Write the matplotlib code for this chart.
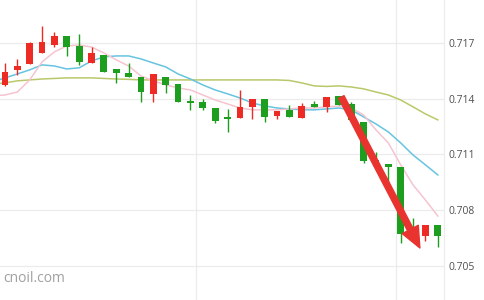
import matplotlib
matplotlib.use("Agg")
import matplotlib.pyplot as plt
import numpy as np

# candle data (open, high, low, close)
opens = [0.71474, 0.71555, 0.71587, 0.71646, 0.71689, 0.71738, 0.71684, 0.71592,
         0.71635, 0.71560, 0.71539, 0.71517, 0.71426, 0.71517, 0.71479, 0.71388,
         0.71383, 0.71350, 0.71299, 0.71296, 0.71356, 0.71399, 0.71307, 0.71340,
         0.71296, 0.71372, 0.71356, 0.71415, 0.71372, 0.71275, 0.71070, 0.71049,
         0.71033, 0.70678, 0.70662, 0.70721]
highs = [0.71592, 0.71614, 0.71705, 0.71791, 0.71759, 0.71738, 0.71748, 0.71678,
         0.71635, 0.71560, 0.71592, 0.71517, 0.71533, 0.71517, 0.71479, 0.71420,
         0.71399, 0.71350, 0.71345, 0.71447, 0.71399, 0.71399, 0.71334, 0.71366,
         0.71377, 0.71388, 0.71409, 0.71415, 0.71383, 0.71275, 0.71114, 0.71049,
         0.71033, 0.70759, 0.70721, 0.70721]
lows = [0.71469, 0.71528, 0.71587, 0.71646, 0.71678, 0.71630, 0.71582, 0.71592,
        0.71544, 0.71485, 0.71517, 0.71383, 0.71383, 0.71431, 0.71380, 0.71340,
        0.71340, 0.71270, 0.71221, 0.71296, 0.71291, 0.71275, 0.71291, 0.71302,
        0.71296, 0.71356, 0.71329, 0.71366, 0.71285, 0.71054, 0.71054, 0.70952,
        0.70624, 0.70656, 0.70635, 0.70602]
closes = [0.71544, 0.71576, 0.71700, 0.71705, 0.71738, 0.71678, 0.71598, 0.71646,
          0.71544, 0.71539, 0.71517, 0.71436, 0.71533, 0.71474, 0.71383, 0.71377,
          0.71350, 0.71280, 0.71293, 0.71356, 0.71399, 0.71302, 0.71334, 0.71302,
          0.71361, 0.71356, 0.71409, 0.71366, 0.71285, 0.71065, 0.71054, 0.71033,
          0.70672, 0.70662, 0.70721, 0.70662]

# moving average lines, first value is just left of the first candle
ma_pink = [0.71415, 0.71420, 0.71436, 0.71501, 0.71598, 0.71652, 0.71684, 0.71689,
           0.71678, 0.71646, 0.71609, 0.71576, 0.71522, 0.71496, 0.71474, 0.71458,
           0.71447, 0.71420, 0.71393, 0.71372, 0.71350, 0.71340, 0.71340, 0.71340,
           0.71345, 0.71350, 0.71350, 0.71356, 0.71361, 0.71350, 0.71313, 0.71232,
           0.71162, 0.71044, 0.70936, 0.70855, 0.70769]
ma_blue = [0.71490, 0.71512, 0.71533, 0.71555, 0.71582, 0.71576, 0.71560, 0.71566,
           0.71603, 0.71625, 0.71630, 0.71630, 0.71614, 0.71592, 0.71571, 0.71533,
           0.71506, 0.71474, 0.71447, 0.71426, 0.71404, 0.71377, 0.71361, 0.71350,
           0.71345, 0.71340, 0.71340, 0.71345, 0.71350, 0.71340, 0.71302, 0.71264,
           0.71221, 0.71162, 0.71097, 0.71044, 0.70990]
ma_olive = [0.71479, 0.71485, 0.71496, 0.71501, 0.71506, 0.71509, 0.71512, 0.71512,
            0.71512, 0.71509, 0.71506, 0.71504, 0.71501, 0.71501, 0.71501, 0.71501,
            0.71501, 0.71501, 0.71501, 0.71501, 0.71501, 0.71501, 0.71501, 0.71501,
            0.71498, 0.71485, 0.71469, 0.71466, 0.71469, 0.71463, 0.71453, 0.71436,
            0.71420, 0.71393, 0.71356, 0.71318, 0.71286]

yticks = [0.705, 0.708, 0.711, 0.714, 0.717]

# arrow from the top of the drop down to the bottom right
arrow_start = (27.2, 0.71409)
arrow_end = (33.55, 0.70597)

up_color = "#ee2a24"
down_color = "#1e9e1e"

fig = plt.figure(figsize=(4.84, 3.0), dpi=100)
ax = fig.add_axes([0, 0, 444 / 484, 1])

n = len(opens)
x = np.arange(n)
o = np.array(opens)
c = np.array(closes)
colors = [up_color if cc >= oo else down_color for oo, cc in zip(o, c)]

# wicks
ax.vlines(x, lows, highs, colors=colors, linewidth=1.0, zorder=3)
# bodies, with a min height so dojis still show
body_bottom = np.minimum(o, c)
body_h = np.maximum(np.abs(c - o), 0.00007)
ax.bar(x, body_h, bottom=body_bottom, width=0.55, color=colors, zorder=4, linewidth=0)

# moving averages
xm = np.arange(-1, n)
ax.plot(xm, ma_olive, color="#b9c86a", linewidth=1.1, zorder=2)
ax.plot(xm, ma_blue, color="#66c4e0", linewidth=1.1, zorder=2)
ax.plot(xm, ma_pink, color="#f6c4d0", linewidth=1.1, zorder=2)

ax.annotate("", xy=arrow_end, xytext=arrow_start,
            arrowprops=dict(facecolor="#e8332f", edgecolor="#e8332f", width=4.3,
                            headwidth=13, headlength=15, shrink=0),
            zorder=6)

ax.set_xlim(-0.4, 35.5)
ax.set_ylim(0.70317, 0.71931)

ax.yaxis.tick_right()
ax.set_yticks(yticks)
ax.set_yticklabels(["%.3f" % v for v in yticks], fontsize=7.5, color="#505050",
                   family="Open Sans")
ax.tick_params(axis="y", length=0, pad=3)
ax.set_xticks([15.44, 31.6])
ax.set_xticklabels([])
ax.tick_params(axis="x", length=0)
ax.grid(True, color="#ececec", linewidth=0.9, zorder=0)
ax.set_axisbelow(True)

for side in ["top", "left", "bottom"]:
    ax.spines[side].set_visible(False)
ax.spines["right"].set_color("#ececec")

fig.text(3 / 484, 1 - 278 / 300, "cnoil.com", fontsize=10, color="#a0a0a0",
         family="Open Sans", va="center", ha="left")

fig.savefig("out.png", dpi=100)
